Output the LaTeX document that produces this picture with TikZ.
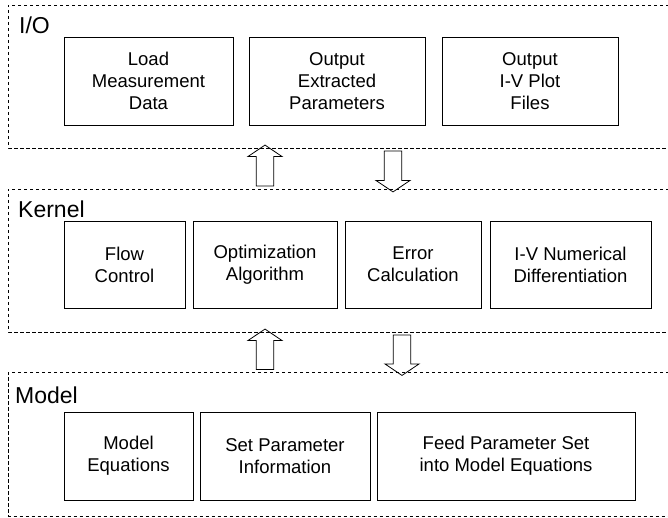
\documentclass[tikz,border=0pt]{standalone}
\usepackage{fontspec}
\setmainfont{Liberation Sans}
\usetikzlibrary{shapes.arrows}

\tikzset{
  unit/.style={draw, line width=0.9pt, align=center, inner sep=0pt,
    font=\fontsize{18.5}{22}\selectfont},
  layer/.style={draw, dashed, dash pattern=on 3.5pt off 2.5pt, line width=0.7pt},
  layertitle/.style={anchor=west, inner sep=0pt, font=\fontsize{23}{26}\selectfont},
  blockarr/.style={single arrow, draw, line width=0.8pt, minimum height=41pt,
    inner sep=8.3pt, single arrow head extend=8.3pt, single arrow tip angle=112}
}

\begin{document}
\begin{tikzpicture}[x=1pt,y=1pt]
\clip (0,0) rectangle (668,518);
% layers
\draw[layer] (675,513) -- (8,513) -- (8,370) -- (675,370);
\draw[layer] (675,329) -- (8,329) -- (8,186) -- (675,186);
\draw[layer] (675,145.5) -- (8,145.5) -- (8,2) -- (675,2);

\node[layertitle] (iotitle) at (19,493) {I/O};
\node[layertitle] (kerneltitle) at (18,309) {Kernel};
\node[layertitle] (modeltitle) at (15,122.5) {Model};

% I/O
\node[unit, minimum width=169pt, minimum height=88pt] (load) at (148.5,437) {Load\\Measurement\\Data};
\node[unit, minimum width=176pt, minimum height=88pt] (outpar) at (337,437) {Output\\Extracted\\Parameters};
\node[unit, minimum width=176pt, minimum height=88pt] (outiv) at (530,437) {Output\\I-V Plot\\Files};

% Kernel
\node[unit, minimum width=121pt, minimum height=87pt] (flow) at (124.5,253.5) {Flow\\Control};
\node[unit, minimum width=144pt, minimum height=87pt] (optim) at (265,253.5) {Optimization\\Algorithm};
\node[unit, minimum width=136pt, minimum height=87pt] (err) at (413,253.5) {Error\\Calculation};
\node[unit, minimum width=161pt, minimum height=87pt] (diff) at (570.5,253.5) {I-V Numerical\\Differentiation};

% Model
\node[unit, minimum width=129pt, minimum height=88pt] (modeq) at (128.5,62) {Model\\Equations};
\node[unit, minimum width=170pt, minimum height=88pt] (setpar) at (285,62) {Set Parameter\\Information};
\node[unit, minimum width=258pt, minimum height=88pt] (feed) at (506,62) {Feed Parameter Set\\into Model Equations};

% arrows between layers
\node[blockarr, shape border rotate=90] (kup) at (265,349.5) {};
\node[blockarr, shape border rotate=270] (kdown) at (393,349.5) {};
\node[blockarr, shape border rotate=90, minimum height=40.5pt] (mup) at (265,165.75) {};
\node[blockarr, shape border rotate=270, minimum height=40.5pt] (mdown) at (402,165.75) {};
\end{tikzpicture}
\end{document}
